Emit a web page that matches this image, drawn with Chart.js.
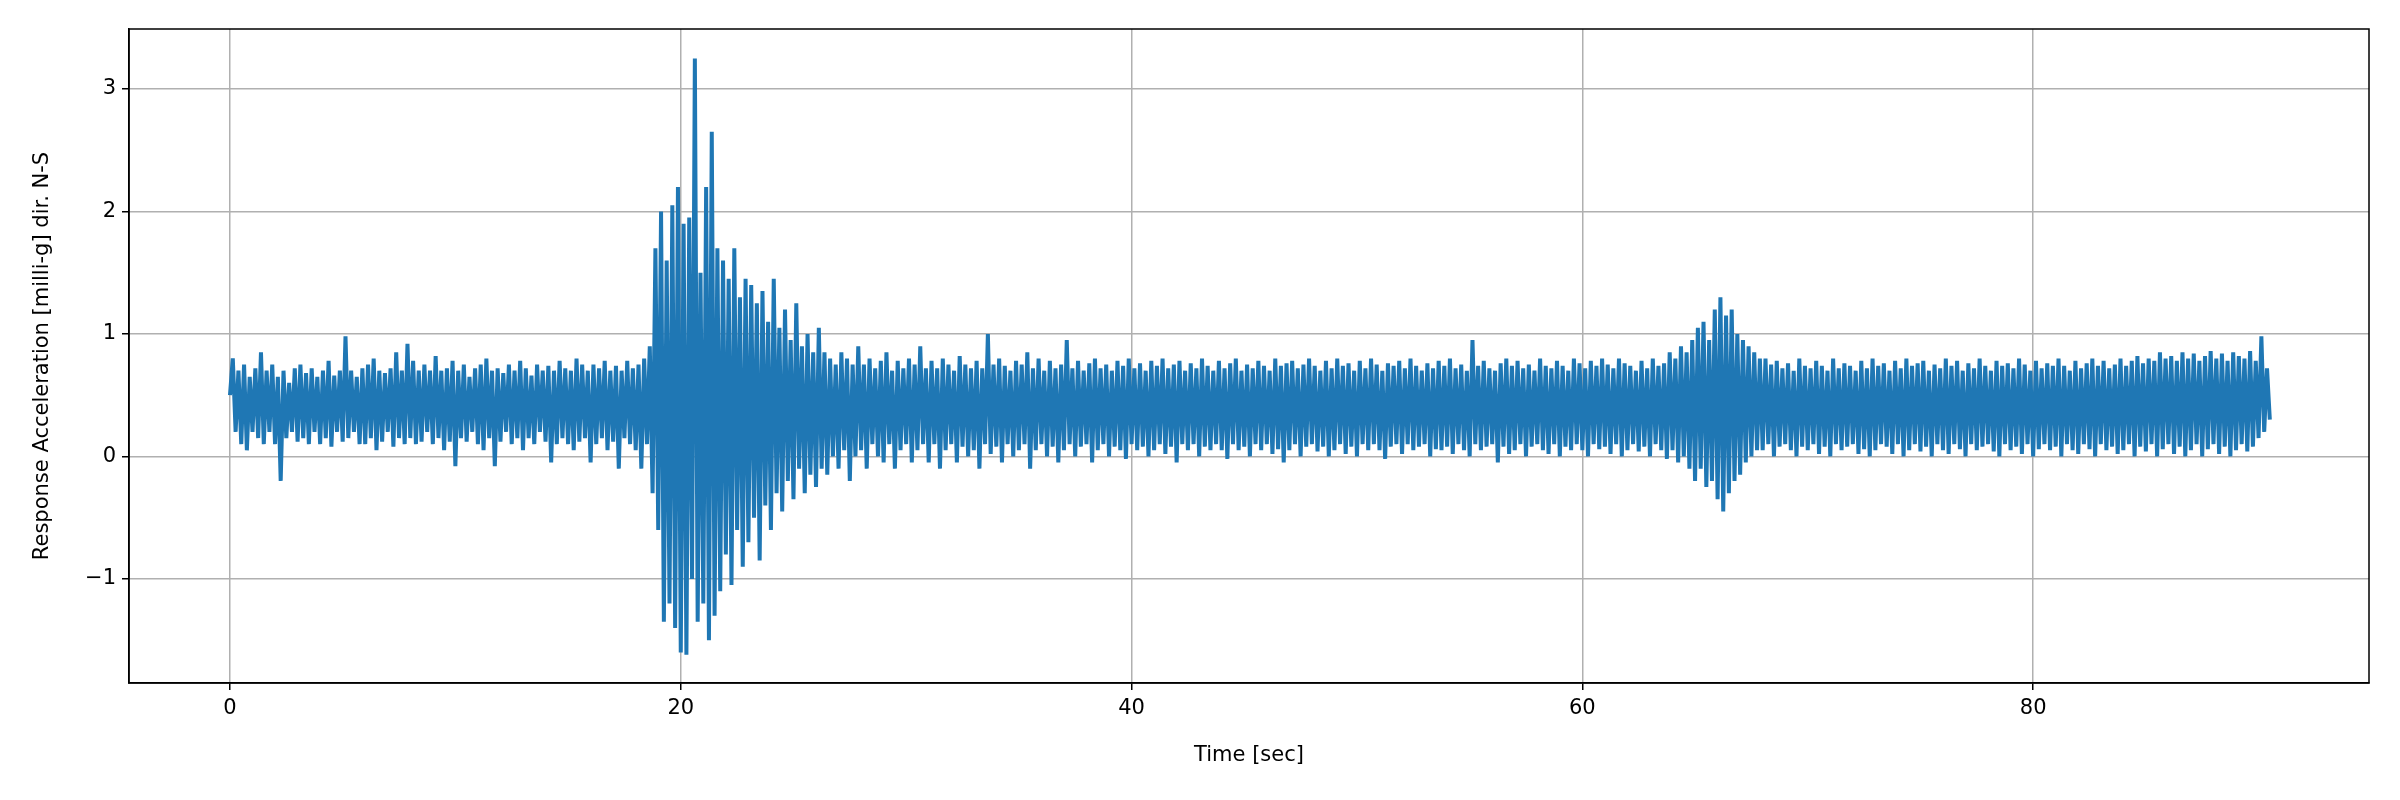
<!DOCTYPE html>
<html><head><meta charset="utf-8">
<script src="https://cdn.jsdelivr.net/npm/chart.js@4"></script>
<style>html,body{margin:0;padding:0;background:#fff}#w{width:2400px;height:800px}</style>
</head><body><div id="w"><canvas id="c"></canvas></div>
<script>
const timeStep = 0.125; // seconds between samples
const accelValues = [
0.5,0.8,0.2,0.7,0.1,0.75,0.05,0.65, 0.2,0.72,0.15,0.85,0.1,0.7,0.2,0.75,
0.1,0.65,-0.2,0.7,0.15,0.6,0.2,0.72, 0.12,0.75,0.15,0.68,0.1,0.72,0.2,0.65,
0.1,0.7,0.15,0.78,0.08,0.66,0.2,0.7, 0.12,0.98,0.15,0.7,0.2,0.65,0.1,0.72,
0.1,0.75,0.15,0.8,0.05,0.7,0.12,0.68, 0.2,0.72,0.08,0.85,0.15,0.7,0.1,0.92,
0.15,0.78,0.1,0.7,0.12,0.75,0.2,0.7, 0.1,0.82,0.15,0.7,0.05,0.72,0.12,0.78,
-0.08,0.7,0.15,0.75,0.12,0.65,0.2,0.72, 0.1,0.75,0.05,0.8,0.15,0.7,-0.08,0.72,
0.12,0.68,0.2,0.75,0.1,0.7,0.15,0.78, 0.05,0.72,0.15,0.66,0.1,0.75,0.2,0.7,
0.12,0.74,-0.05,0.7,0.1,0.78,0.15,0.72, 0.1,0.7,0.05,0.8,0.12,0.75,0.15,0.7,
-0.05,0.75,0.1,0.72,0.15,0.78,0.05,0.7, 0.12,0.74,-0.1,0.7,0.15,0.78,0.1,0.72,
0.05,0.75,-0.1,0.8,0.1,0.9,-0.3,1.7, -0.6,2.0,-1.35,1.6,-1.2,2.05,-1.4,2.2,
-1.6,1.9,-1.62,1.95,-1.0,3.25,-1.35,1.5, -1.2,2.2,-1.5,2.65,-1.3,1.7,-1.1,1.6,
-0.8,1.45,-1.05,1.7,-0.6,1.3,-0.9,1.45, -0.7,1.4,-0.5,1.25,-0.85,1.35,-0.4,1.1,
-0.6,1.45,-0.3,1.05,-0.45,1.2,-0.2,0.95, -0.35,1.25,-0.1,0.9,-0.3,1.0,-0.15,0.85,
-0.25,1.05,-0.1,0.85,-0.15,0.8,0.0,0.75, -0.1,0.85,0.05,0.8,-0.2,0.75,0.0,0.9,
0.05,0.75,-0.1,0.8,0.1,0.72,0.0,0.78, -0.05,0.85,0.1,0.7,-0.1,0.78,0.05,0.72,
0.1,0.8,-0.05,0.75,0.05,0.9,0.1,0.72, -0.05,0.78,0.1,0.72,-0.1,0.8,0.05,0.75,
0.1,0.7,-0.05,0.82,0.08,0.75,0.0,0.72, 0.05,0.78,-0.1,0.72,0.1,1.0,0.02,0.75,
0.08,0.8,-0.05,0.74,0.1,0.7,0.0,0.78, 0.05,0.75,0.1,0.85,-0.1,0.72,0.05,0.8,
0.1,0.7,0.0,0.78,0.08,0.72,-0.05,0.75, 0.05,0.95,0.1,0.72,0.0,0.78,0.08,0.7,
0.1,0.76,-0.05,0.8,0.05,0.72,0.1,0.75, 0.0,0.7,0.08,0.78,0.05,0.74,-0.02,0.8,
0.1,0.72,0.05,0.76,0.08,0.7,0.0,0.78, 0.05,0.74,0.1,0.8,0.02,0.72,0.08,0.75,
-0.05,0.78,0.1,0.7,0.05,0.76,0.1,0.72, 0.0,0.8,0.08,0.74,0.05,0.7,0.1,0.78,
0.05,0.72,-0.02,0.76,0.1,0.8,0.05,0.7, 0.08,0.75,0.0,0.72,0.1,0.78,0.05,0.74,
0.1,0.7,0.02,0.8,0.06,0.74,-0.05,0.76, 0.05,0.78,0.1,0.72,0.0,0.75,0.08,0.8,
0.1,0.74,0.04,0.7,0.08,0.78,0.0,0.72, 0.05,0.8,0.1,0.74,0.02,0.76,0.08,0.7,
0.0,0.78,0.1,0.72,0.05,0.8,0.1,0.75, 0.05,0.7,-0.02,0.76,0.08,0.74,0.1,0.78,
0.02,0.72,0.1,0.8,0.05,0.74,0.08,0.7, 0.1,0.76,0.0,0.72,0.06,0.78,0.05,0.74,
0.08,0.8,0.02,0.72,0.1,0.75,0.05,0.7, 0.0,0.95,0.1,0.74,0.05,0.78,0.08,0.72,
0.1,0.7,-0.05,0.76,0.08,0.8,0.02,0.74, 0.05,0.78,0.1,0.72,0.0,0.75,0.08,0.7,
0.1,0.8,0.05,0.74,0.02,0.72,0.1,0.78, 0.0,0.74,0.08,0.7,0.05,0.8,0.1,0.76,
0.05,0.72,0.0,0.78,0.1,0.74,0.06,0.8, 0.08,0.75,0.02,0.72,0.1,0.8,0.0,0.76,
0.05,0.74,0.1,0.7,0.04,0.78,0.08,0.72, 0.0,0.8,0.1,0.74,0.05,0.76,-0.02,0.85,
0.05,0.8,-0.05,0.9,0.0,0.85,-0.1,0.95, -0.2,1.05,-0.1,1.1,-0.25,0.95,-0.2,1.2,
-0.35,1.3,-0.45,1.15,-0.3,1.2,-0.2,1.0, -0.15,0.95,-0.05,0.9,0.0,0.85,0.05,0.8,
0.05,0.8,0.1,0.75,0.0,0.78,0.08,0.72, 0.1,0.76,0.05,0.7,0.0,0.8,0.08,0.74,
0.05,0.72,0.1,0.78,0.02,0.74,0.08,0.7, 0.0,0.8,0.1,0.72,0.05,0.76,0.08,0.74,
0.1,0.7,0.02,0.78,0.06,0.72,0.0,0.8, 0.05,0.74,0.1,0.76,0.08,0.7,0.02,0.78,
0.1,0.72,0.0,0.8,0.05,0.74,0.1,0.76, 0.04,0.78,0.08,0.7,0.0,0.75,0.1,0.72,
0.05,0.8,0.02,0.74,0.1,0.78,0.06,0.7, 0.0,0.76,0.1,0.72,0.05,0.8,0.08,0.74,
0.1,0.7,0.04,0.78,0.0,0.74,0.1,0.76, 0.05,0.72,0.08,0.8,0.02,0.75,0.1,0.7,
0.0,0.78,0.06,0.72,0.1,0.76,0.05,0.74, 0.08,0.8,0.0,0.74,0.1,0.7,0.05,0.78,
0.02,0.72,0.1,0.76,0.06,0.8,0.0,0.74, 0.1,0.78,0.05,0.72,0.08,0.75,0.02,0.8,
0.05,0.74,0.1,0.78,0.0,0.82,0.08,0.76, 0.04,0.8,0.1,0.78,0.0,0.85,0.06,0.8,
0.1,0.82,0.02,0.78,0.08,0.85,0.0,0.8, 0.05,0.84,0.1,0.78,0.0,0.82,0.06,0.86,
0.1,0.8,0.02,0.84,0.08,0.78,0.0,0.85, 0.05,0.82,0.1,0.8,0.04,0.86,0.08,0.78,
0.15,0.98,0.2,0.72,0.3
];
const xTicks = [0,20,40,60,80];
const yTicks = [-1,0,1,2,3];
const xLabel = 'Time [sec]';
const yLabel = 'Response Acceleration [milli-g] dir. N-S';

const points = accelValues.map((v,i)=>({x:i*timeStep,y:v}));
const font = {family:'DejaVu Sans', size:21};
new Chart(document.getElementById('c'),{
  type:'line',
  data:{datasets:[{data:points,borderColor:'#1f77b4',borderWidth:4,pointRadius:0,tension:0,fill:false}]},
  options:{
    responsive:true,maintainAspectRatio:false,animation:false,
    layout:{padding:{top:29,right:31,left:26,bottom:28}},
    plugins:{legend:{display:false},tooltip:{enabled:false}},
    scales:{
      x:{type:'linear',min:-4.48,max:94.9,
        afterBuildTicks:s=>{s.ticks=xTicks.map(v=>({value:v}));},
        afterFit:s=>{s.height=89;},
        grid:{color:'#b0b0b0',lineWidth:1.5,tickColor:'#000',tickLength:7},
        border:{color:'#000',width:1.5},
        ticks:{color:'#000',font,padding:6,maxRotation:0},
        title:{display:true,text:xLabel,color:'#000',font,padding:{top:4}}},
      y:{type:'linear',min:-1.85,max:3.49,
        afterBuildTicks:s=>{s.ticks=yTicks.map(v=>({value:v}));},
        afterFit:s=>{s.width=103;},
        grid:{color:'#b0b0b0',lineWidth:1.5,tickColor:'#000',tickLength:7},
        border:{color:'#000',width:1.5},
        ticks:{color:'#000',font,padding:6,callback:v=>v<0?'\u2212'+Math.abs(v):String(v)},
        title:{display:true,text:yLabel,color:'#000',font,padding:{bottom:6}}}
    }
  },
  plugins:[{id:'frame',afterDraw(c){const a=c.chartArea,x=c.ctx;x.save();x.strokeStyle='#000';x.lineWidth=1.5;x.strokeRect(a.left,a.top,a.right-a.left,a.bottom-a.top);x.restore();}}]
});
</script></body></html>
